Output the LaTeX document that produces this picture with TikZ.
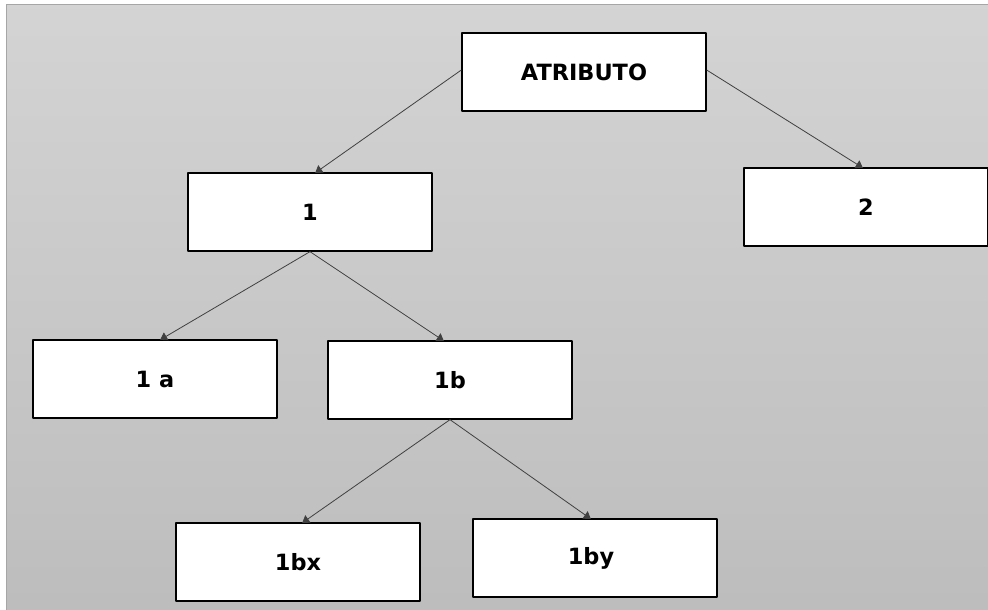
\documentclass[tikz,border=0pt]{standalone}
\usepackage{fontspec}
\setsansfont{DejaVu Sans}
\usetikzlibrary{arrows.meta}
\begin{document}
\begin{tikzpicture}[x=1bp,y=-1bp, line join=round,
  attrbox/.style={draw=black, line width=1.3bp, fill=white, minimum width=244bp, minimum height=78bp, inner sep=0pt, font=\sffamily\bfseries\fontsize{22.5}{26}\selectfont},
  link/.style={draw=black!75, line width=0.8bp, -{Triangle[width=9bp,length=7bp]}, shorten >=-1bp}]
\useasboundingbox (0,0) rectangle (988,610);
\shade[top color=black!17, bottom color=black!26] (6,5) rectangle (992,614);
\draw[black!35, line width=1bp] (6,614)--(6,5)--(992,5);
\node[attrbox] (attr) at (584,72) {ATRIBUTO};
\node[attrbox] (n1) at (310,212) {1};
\node[attrbox] (n2) at (866,207) {2};
\node[attrbox] (n1a) at (155,379) {1 a};
\node[attrbox] (n1b) at (450,380) {1b};
\node[attrbox] (n1bx) at (298,562) {1bx};
\node[attrbox] (n1by) at (595,558) {\hspace*{-8bp}1by};
\draw[link] ([yshift=2bp]attr.west) -- ([xshift=6bp]n1.north);
\draw[link] ([yshift=2bp]attr.east) -- ([xshift=-4bp]n2.north);
\draw[link] (n1.south) -- ([xshift=6bp]n1a.north);
\draw[link] (n1.south) -- ([xshift=-7bp]n1b.north);
\draw[link] (n1b.south) -- ([xshift=5bp]n1bx.north);
\draw[link] (n1b.south) -- ([xshift=-5bp]n1by.north);
\end{tikzpicture}
\end{document}
